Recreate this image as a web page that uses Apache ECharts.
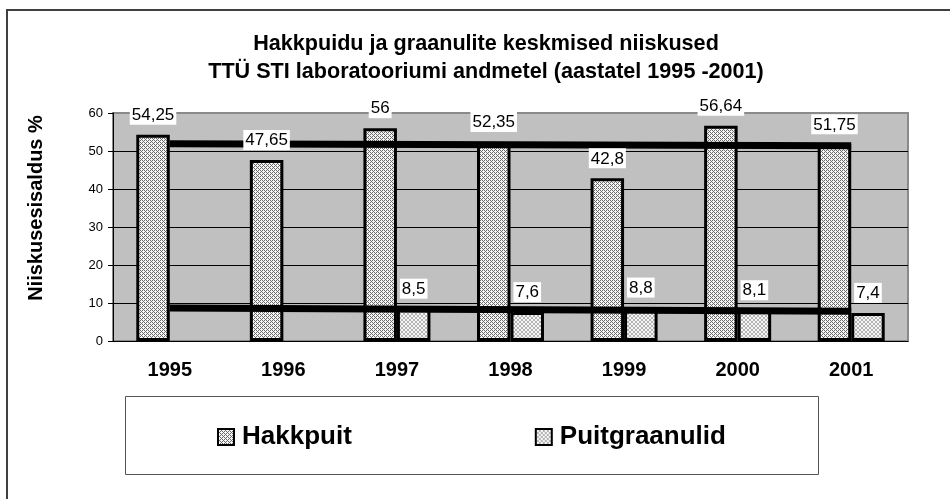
<!DOCTYPE html>
<html>
<head>
<meta charset="utf-8">
<script src="https://cdn.jsdelivr.net/npm/echarts@6/dist/echarts.min.js"></script>
<style>
  html, body { margin: 0; padding: 0; background: #ffffff; }
  #chart { width: 950px; height: 499px; }
</style>
</head>
<body>
<div id="chart"></div>
<script>
// Moisture content of wood chips and pellets, TTÜ STI lab data 1995-2001
const years = ['1995', '1996', '1997', '1998', '1999', '2000', '2001'];
const hakkpuit = [54.25, 47.65, 56, 52.35, 42.8, 56.64, 51.75];
const puitgraanulid = [null, null, 8.5, 7.6, 8.8, 8.1, 7.4];
// linear trend lines: value at first year and at last year
const hakkpuitTrend = [51.9, 51.4];
const puitgraanulidTrend = [8.7, 7.8];
const yMin = 0, yMax = 60, yStep = 10;

const FONT = '"Liberation Sans", Arial, sans-serif';

// small repeating fill textures for the bars
function makePattern(rows, fg, bg) {
  const h = rows.length, w = rows[0].length;
  const c = document.createElement('canvas');
  c.width = w; c.height = h;
  const ctx = c.getContext('2d');
  ctx.fillStyle = bg; ctx.fillRect(0, 0, w, h);
  ctx.fillStyle = fg;
  for (let y = 0; y < h; y++)
    for (let x = 0; x < w; x++)
      if (rows[y][x] === '1') ctx.fillRect(x, y, 1, 1);
  return { image: c, repeat: 'repeat' };
}
const chipFill = makePattern(['1010', '0001', '1010', '0100'], '#6a6a6a', '#f6f6f6');
const pelletFill = makePattern(['0110', '1001', '1001', '0110'], '#b4b4b4', '#f6f6f6');

const comma = p => String(p.value).replace('.', ',');
const barCommon = {
  type: 'bar',
  barGap: '0%',
  barCategoryGap: '41%'
};
const labelStyle = {
  show: true,
  position: 'top',
  distance: 10,
  formatter: comma,
  color: '#000',
  fontFamily: FONT,
  fontSize: 17,
  backgroundColor: '#ffffff',
  padding: [2, 2, 1, 2]
};

const chart = echarts.init(document.getElementById('chart'), null, { renderer: 'canvas' });
chart.setOption({
  animation: false,
  backgroundColor: '#ffffff',
  grid: {
    left: 113, top: 113, right: 42, bottom: 158,
    show: true, backgroundColor: '#c0c0c0', borderColor: '#8a8a8a', borderWidth: 2
  },
  xAxis: [{
    type: 'category',
    data: years,
    axisLine: { lineStyle: { color: '#000', width: 1 } },
    axisTick: { length: 5, lineStyle: { color: '#000' } },
    axisLabel: { color: '#000', fontFamily: FONT, fontSize: 20, fontWeight: 'bold', margin: 19 }
  }, {
    type: 'category',
    data: years,
    show: false
  }],
  yAxis: {
    type: 'value',
    min: yMin, max: yMax, interval: yStep,
    axisLine: { show: true, lineStyle: { color: '#000', width: 1 } },
    axisTick: { show: true, length: 5, lineStyle: { color: '#000' } },
    axisLabel: { color: '#000', fontFamily: FONT, fontSize: 13, margin: 10 },
    splitLine: { show: true, showMinLine: false, showMaxLine: false, lineStyle: { color: '#000', width: 1 } }
  },
  legend: {
    data: ['Hakkpuit', 'Puitgraanulid'],
    left: 212, top: 419,
    orient: 'horizontal',
    itemWidth: 16, itemHeight: 16, itemGap: 183,
    icon: 'rect',
    itemStyle: { borderColor: '#000', borderWidth: 2 },
    textStyle: { color: '#000', fontFamily: FONT, fontSize: 26, fontWeight: 'bold', padding: [0, 0, 0, 3] },
    selectedMode: false
  },
  graphic: [
    { type: 'rect', shape: { x: 7, y: 10, width: 960, height: 500 }, style: { fill: 'none', stroke: '#404040', lineWidth: 2 }, z: 0, silent: true },
    { type: 'rect', shape: { x: 125.5, y: 396.5, width: 693, height: 78 }, style: { fill: 'none', stroke: '#555', lineWidth: 1 }, silent: true },
    { type: 'text', x: 486, y: 44, style: { text: 'Hakkpuidu ja graanulite keskmised niiskused', fill: '#000', font: 'bold 21.6px ' + FONT, textAlign: 'center', textVerticalAlign: 'middle' }, silent: true },
    { type: 'text', x: 486, y: 72, style: { text: 'TTÜ STI laboratooriumi andmetel (aastatel 1995 -2001)', fill: '#000', font: 'bold 21.6px ' + FONT, textAlign: 'center', textVerticalAlign: 'middle' }, silent: true },
    { type: 'text', x: 36, y: 208, rotation: Math.PI / 2, style: { text: 'Niiskusesisaldus %', fill: '#000', font: 'bold 20px ' + FONT, textAlign: 'center', textVerticalAlign: 'middle' }, silent: true }
  ],
  series: [
    Object.assign({}, barCommon, {
      name: 'Hakkpuit', data: hakkpuit, z: 2,
      itemStyle: { color: chipFill, borderColor: '#000', borderWidth: 3 }
    }),
    Object.assign({}, barCommon, {
      name: 'Puitgraanulid', data: puitgraanulid, z: 2,
      itemStyle: { color: pelletFill, borderColor: '#000', borderWidth: 3 }
    }),
    {
      type: 'line', name: 'Hakkpuit trend', z: 3, symbol: 'none', silent: true,
      data: [[0, hakkpuitTrend[0]], [years.length - 1, hakkpuitTrend[1]]],
      lineStyle: { color: '#000', width: 7, cap: 'butt' }
    },
    {
      type: 'line', name: 'Puitgraanulid trend', z: 3, symbol: 'none', silent: true,
      data: [[0, puitgraanulidTrend[0]], [years.length - 1, puitgraanulidTrend[1]]],
      lineStyle: { color: '#000', width: 7, cap: 'butt' }
    },
    // value labels drawn above the trend lines
    Object.assign({}, barCommon, {
      name: 'Hakkpuit labels', xAxisIndex: 1, data: hakkpuit, z: 5, silent: true,
      itemStyle: { color: 'rgba(0,0,0,0)' }, label: labelStyle
    }),
    Object.assign({}, barCommon, {
      name: 'Puitgraanulid labels', xAxisIndex: 1, data: puitgraanulid, z: 5, silent: true,
      itemStyle: { color: 'rgba(0,0,0,0)' }, label: labelStyle
    })
  ]
});
</script>
</body>
</html>
